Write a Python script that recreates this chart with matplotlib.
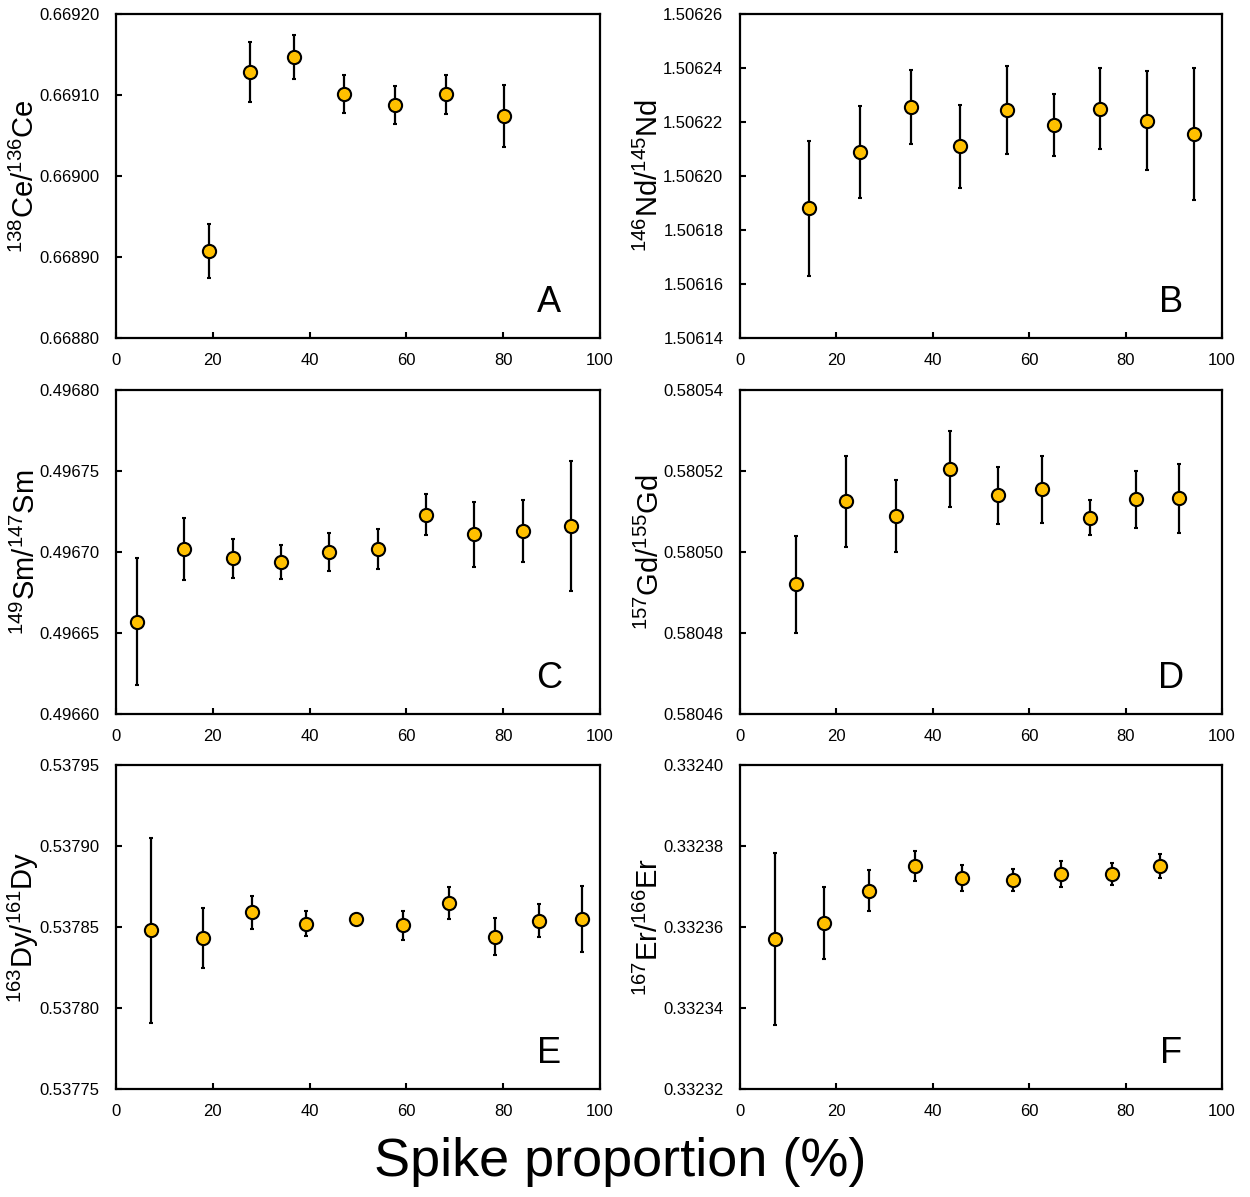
import matplotlib
matplotlib.use("Agg")
import matplotlib.pyplot as plt

plt.rcParams['font.family'] = ['Liberation Sans', 'DejaVu Sans']

# Panel A: 138Ce/136Ce
ce_x = [19.2, 27.6, 36.8, 47.2, 57.7, 68.2, 80.2]
ce_y = [0.668907, 0.669128, 0.669147, 0.669101, 0.669088, 0.669101, 0.669074]
ce_err = [0.0000335, 0.000037, 0.0000275, 0.0000235, 0.0000235, 0.000024, 0.0000385]

# Panel B: 146Nd/145Nd
nd_x = [14.3, 24.9, 35.5, 45.6, 55.3, 65.1, 74.6, 84.5, 94.2]
nd_y = [1.506188, 1.506209, 1.5062255, 1.506211, 1.5062245, 1.506219, 1.506225, 1.5062205, 1.5062155]
nd_err = [0.000025, 0.000017, 0.0000136, 0.0000153, 0.0000163, 0.0000115, 0.000015, 0.0000183, 0.0000245]

# Panel C: 149Sm/147Sm
sm_x = [4.3, 14.1, 24.2, 34.1, 44.0, 54.1, 64.0, 74.0, 84.0, 94.0]
sm_y = [0.496657, 0.496702, 0.496696, 0.496694, 0.496700, 0.496702, 0.496723, 0.496711, 0.496713, 0.496716]
sm_err = [0.000039, 0.000019, 0.000012, 0.0000105, 0.000012, 0.0000125, 0.0000125, 0.00002, 0.000019, 0.00004]

# Panel D: 157Gd/155Gd
gd_x = [11.6, 21.9, 32.3, 43.5, 53.5, 62.7, 72.6, 82.1, 91.1]
gd_y = [0.580492, 0.5805125, 0.580509, 0.5805205, 0.580514, 0.5805155, 0.5805085, 0.580513, 0.5805133]
gd_err = [0.000012, 0.0000113, 0.0000089, 0.0000095, 0.000007, 0.0000083, 0.0000043, 0.000007, 0.0000085]

# Panel E: 163Dy/161Dy
dy_x = [7.3, 18.0, 28.0, 39.3, 49.5, 59.3, 68.9, 78.3, 87.4, 96.3]
dy_y = [0.537848, 0.537843, 0.537859, 0.537852, 0.537855, 0.537851, 0.537865, 0.537844, 0.537854, 0.537855]
dy_err = [0.000057, 0.0000185, 0.00001, 0.0000077, 0.000003, 0.000009, 0.00001, 0.0000115, 0.00001, 0.0000205]

# Panel F: 167Er/166Er
er_x = [7.2, 17.4, 26.7, 36.3, 46.1, 56.6, 66.6, 77.2, 87.1]
er_y = [0.332357, 0.332361, 0.332369, 0.332375, 0.332372, 0.3323715, 0.332373, 0.332373, 0.332375]
er_err = [0.0000212, 0.000009, 0.000005, 0.0000037, 0.0000032, 0.0000027, 0.0000032, 0.0000027, 0.000003]

panels = [
    dict(x=ce_x, y=ce_y, err=ce_err, ylim=(0.66880, 0.66920), step=0.0001,
         label=r'$\mathregular{^{138}Ce/^{136}Ce}$', tag='A'),
    dict(x=nd_x, y=nd_y, err=nd_err, ylim=(1.50614, 1.50626), step=0.00002,
         label=r'$\mathregular{^{146}Nd/^{145}Nd}$', tag='B'),
    dict(x=sm_x, y=sm_y, err=sm_err, ylim=(0.49660, 0.49680), step=0.00005,
         label=r'$\mathregular{^{149}Sm/^{147}Sm}$', tag='C'),
    dict(x=gd_x, y=gd_y, err=gd_err, ylim=(0.58046, 0.58054), step=0.00002,
         label=r'$\mathregular{^{157}Gd/^{155}Gd}$', tag='D'),
    dict(x=dy_x, y=dy_y, err=dy_err, ylim=(0.53775, 0.53795), step=0.00005,
         label=r'$\mathregular{^{163}Dy/^{161}Dy}$', tag='E'),
    dict(x=er_x, y=er_y, err=er_err, ylim=(0.33232, 0.33240), step=0.00002,
         label=r'$\mathregular{^{167}Er/^{166}Er}$', tag='F'),
]

W, H = 1250, 1197
fig = plt.figure(figsize=(W / 100, H / 100), dpi=100)

lefts = [116, 740]
widths = [484, 482]
tops = [14, 390, 765]
ax_h = 324

for i, p in enumerate(panels):
    row, col = divmod(i, 2)
    l = lefts[col]
    t = tops[row]
    ax = fig.add_axes([l / W, 1 - (t + ax_h) / H, widths[col] / W, ax_h / H])
    ax.errorbar(p['x'], p['y'], yerr=p['err'], fmt='o', color='black',
                ecolor='black', elinewidth=1.6, capsize=1.6, capthick=2.2,
                markerfacecolor='#FFC000', markeredgecolor='black',
                markeredgewidth=1.5, markersize=9.5, zorder=3)
    lo, hi = p['ylim']
    n = int(round((hi - lo) / p['step']))
    ticks = [lo + k * p['step'] for k in range(n + 1)]
    ax.set_ylim(lo, hi)
    ax.set_yticks(ticks)
    ax.set_yticklabels([f'{v:.5f}' for v in ticks])
    ax.set_xlim(0, 100)
    ax.set_xticks([0, 20, 40, 60, 80, 100])
    ax.tick_params(direction='in', length=4, width=1.5, labelsize=12)
    ax.tick_params(axis='x', pad=11)
    ax.tick_params(axis='y', pad=12)
    for s in ax.spines.values():
        s.set_linewidth(1.6)
    ax.set_ylabel(p['label'], fontsize=21, labelpad=-1)
    ax.text(0.895, 0.08, p['tag'], transform=ax.transAxes, fontsize=26,
            ha='center', va='baseline')

fig.text(0.496, 0.029, 'Spike proportion (%)', fontsize=39, ha='center', va='center')

fig.savefig('out.png', dpi=100)
